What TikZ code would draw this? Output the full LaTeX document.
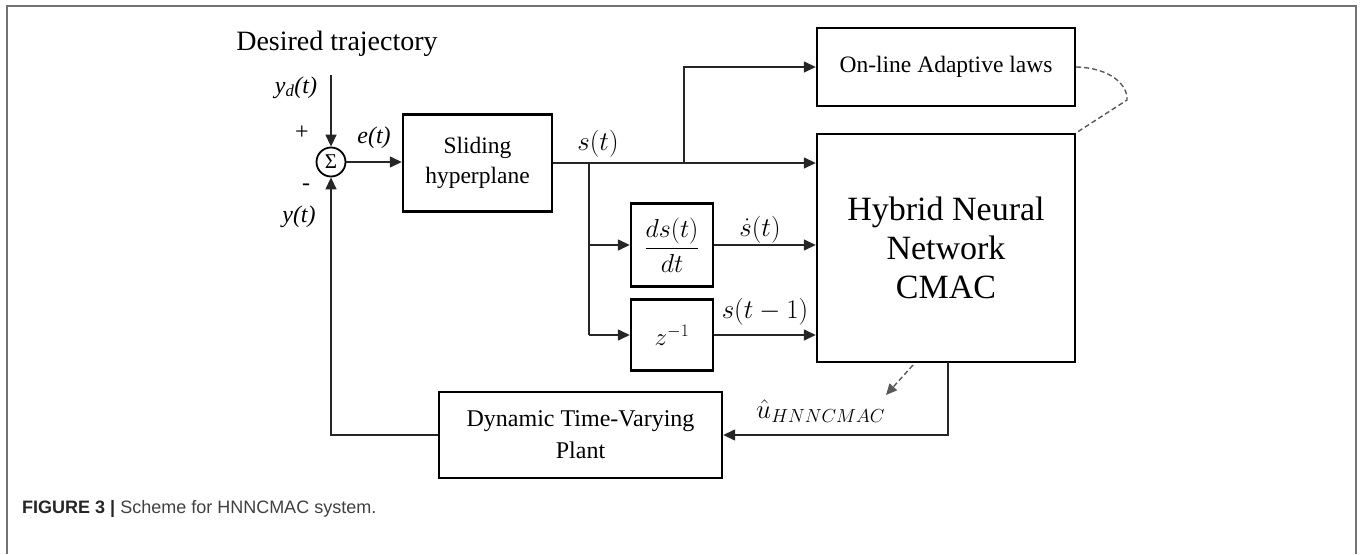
\RequirePackage{fix-cm}
\documentclass[tikz,border=0pt]{standalone}
\usepackage{fontspec}
\setmainfont{Liberation Serif}
\setsansfont{Liberation Sans}
\usetikzlibrary{arrows.meta}
\begin{document}
\begin{tikzpicture}[x=1pt,y=-1pt,
  blk/.style={draw, line width=2.4pt, inner sep=0pt, align=center},
  conn/.style={line width=1.4pt, draw=black!85},
  arr/.style={conn, -{Triangle[length=12pt,width=11pt]}},
  lbl/.style={font={\fontsize{24}{28}\selectfont}, inner sep=0pt, anchor=base},
  mlbl/.style={font={\fontsize{27}{30}\selectfont}, inner sep=0pt, anchor=base},
  dsh/.style={line width=1.4pt, draw=black!65, dash pattern=on 5pt off 3pt},
]
\useasboundingbox (0,0) rectangle (1362,554);
\draw[line width=2pt, draw=black!55] (7,554) -- (7,6) -- (1356,6) -- (1356,554);

% blocks
\node[blk, minimum width=149pt, minimum height=97pt, font={\fontsize{23.5}{30}\selectfont}] (slide) at (477.5,163) {Sliding\\hyperplane};
\node[blk, minimum width=258pt, minimum height=78pt, font={\fontsize{23.5}{28}\selectfont}] (online) at (946,67) {On-line Adaptive laws};
\node[blk, minimum width=258pt, minimum height=228pt, font={\fontsize{34}{39}\selectfont}] (hnn) at (946,248) {Hybrid Neural\\Network\\CMAC};
\node[blk, minimum width=82pt, minimum height=83pt, font={\fontsize{26}{28}\selectfont}] (dsdt) at (672,245) {$\displaystyle\frac{ds(t)}{dt}$};
\node[blk, minimum width=82pt, minimum height=71pt, font={\fontsize{25}{28}\selectfont}] (zinv) at (672,335) {$z^{-1}$};
\node[blk, minimum width=283pt, minimum height=86pt, font={\fontsize{24}{32}\selectfont}] (plant) at (580.5,435) {Dynamic Time-Varying\\Plant};
\node[draw, circle, line width=1.8pt, minimum size=29pt, inner sep=0pt, font={\fontsize{21}{21}\selectfont}] (sum) at (331,162) {Σ};

% labels
\node[lbl, font={\fontsize{28}{30}\selectfont}] (tdes) at (337,50) {Desired trajectory};
\node[lbl] (lyd) at (296,93) {\itshape y\textsubscript{d}(t)};
\node[lbl] (lplus) at (302,139) {+};
\node[lbl] (le) at (374,143) {\itshape e(t)};
\node[lbl] (lminus) at (306,190) {-};
\node[lbl] (ly) at (299,222) {\itshape y(t)};
\node[mlbl] (ls) at (598,150) {$s(t)$};
\node[mlbl] (lsd) at (760,236) {$\dot{s}(t)$};
\node[mlbl] (ls1) at (765,318) {$s(t-1)$};
\node[mlbl, anchor=base west] (lu) at (756,418) {$\hat{u}_{HNNCMAC}$};

% coordinates
\coordinate (yd) at (331,75);
\coordinate (b1) at (589,163);
\coordinate (b2) at (684,163);
\coordinate (o) at (948,362);
\coordinate (d1) at (913,365);
\coordinate (d2) at (886,395);
\coordinate (c1) at (1127,100);

% connectors
\draw[arr] (yd) -- (sum.north);
\draw[arr] (sum.east) -- (sum.east -| slide.west);
\draw[arr] (slide.east) -- (slide.east -| hnn.west);
\draw[arr] (b2) |- (online.west);
\draw[conn] (b1) -- (b1 |- zinv.west);
\draw[arr] (b1 |- dsdt.west) -- (dsdt.west);
\draw[arr] (b1 |- zinv.west) -- (zinv.west);
\draw[arr] (dsdt.east) -- (dsdt.east -| hnn.west);
\draw[arr] (zinv.east) -- (zinv.east -| hnn.west);
\draw[arr] (o) |- (plant.east);
\draw[arr] (plant.west) -| (sum.south);
\draw[dsh, -{Triangle[length=11pt,width=10pt]}] (d1) -- (d2);
\draw[dsh] (online.east) .. controls (1112,68) and (1128,86) .. (c1) -- (hnn.north east);

% caption
\node[anchor=base west, inner sep=0pt, font={\sffamily\fontsize{18}{20}\selectfont}, text=black!75] (cap) at (22,513) {\textbf{\color{black!85}FIGURE 3 |} Scheme for HNNCMAC system.};
\end{tikzpicture}
\end{document}
